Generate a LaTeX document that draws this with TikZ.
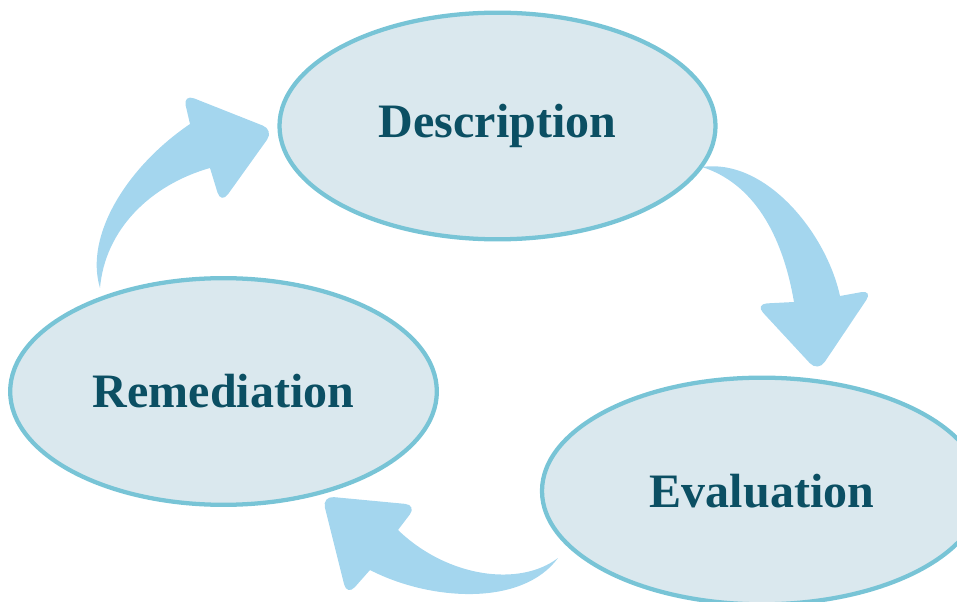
\documentclass[tikz,border=0pt]{standalone}
\usepackage{fontspec}
\setmainfont{Liberation Serif}
\usetikzlibrary{shapes.geometric}
\definecolor{ringline}{HTML}{78C4D6}
\definecolor{ringfill}{HTML}{DAE8EE}
\definecolor{labeltext}{HTML}{0B4F63}
\definecolor{flowfill}{HTML}{A4D6EE}
\begin{document}
\begin{tikzpicture}[x=0.75pt,y=-0.75pt,
  stage/.style={ellipse,draw=ringline,line width=3.2pt,fill=ringfill,inner sep=0pt,
    text=labeltext,font=\fontsize{36}{40}\selectfont\bfseries},
  flow/.style={fill=flowfill}]
\useasboundingbox (0,0) rectangle (957,602);
\clip (0,0) rectangle (957,602);

% the three stages of the cycle
\node[stage,minimum width=327pt,minimum height=170pt] (desc) at (497.5,126) {Description};
\node[stage,minimum width=320pt,minimum height=170pt] (reme) at (223.5,391.5) {Remediation};
\node[stage,minimum width=330pt,minimum height=170pt] (eval) at (762,491) {Evaluation};

% curved block arrows between the stages
% Remediation -> Description
\fill[flow] (100,288) .. controls (84,235) and (128,166) .. (190,124)
  [rounded corners=9pt] -- (183,94) -- (274,130) -- (221,204) [sharp corners] -- (210,168)
  .. controls (150,185) and (105,230) .. (100,288) -- cycle;
% Description -> Evaluation
\fill[flow] (702,167) .. controls (765,158) and (826,232) .. (840,296)
  [rounded corners=9pt] -- (873,290) -- (818,372) -- (755,304) [sharp corners] -- (794,302)
  .. controls (782,232) and (752,183) .. (702,167) -- cycle;
% Evaluation -> Remediation
\fill[flow] (558,558) .. controls (520,587) and (448,578) .. (398,530)
  [rounded corners=9pt] -- (417,505) -- (322,496) -- (347,596) [sharp corners] -- (370,570)
  .. controls (430,601) and (522,607) .. (558,558) -- cycle;
\end{tikzpicture}
\end{document}
